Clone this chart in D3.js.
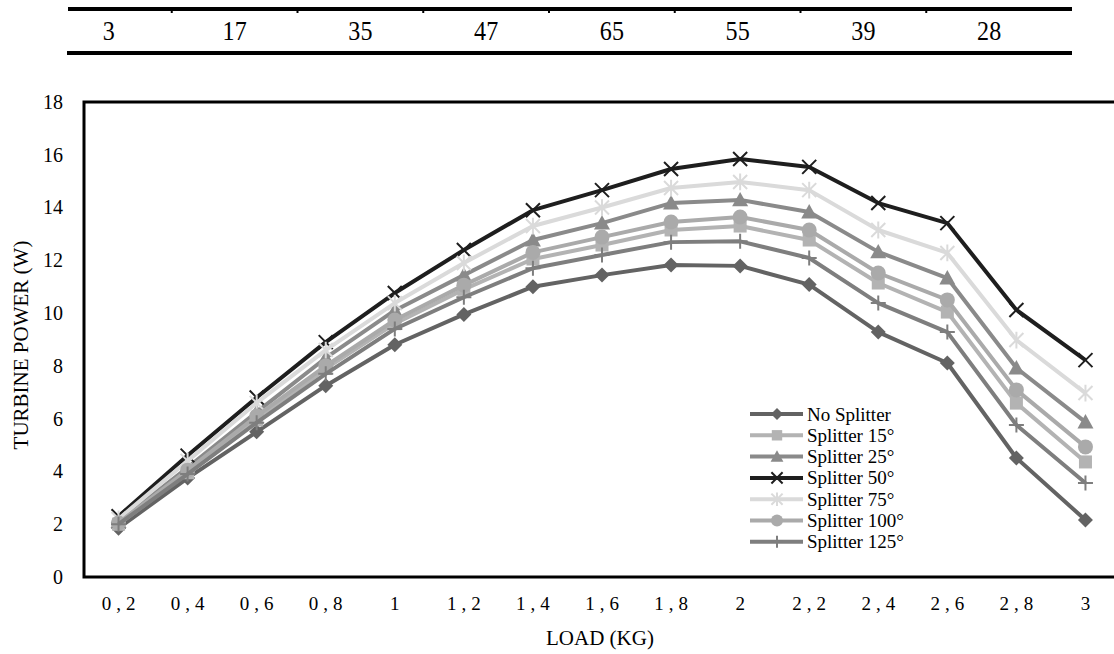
<!DOCTYPE html>
<html>
<head>
<meta charset="utf-8">
<script src="https://cdn.jsdelivr.net/npm/d3@7"></script>
<style>
  body { margin: 0; background: #fff; }
  svg { display: block; }
  svg text { font-family: "Liberation Serif", "Times New Roman", serif; }
</style>
</head>
<body>
<svg id="chart" width="1114" height="654"></svg>
<script>
// Load categories (kg) on the x axis
const loads = ["0,2", "0,4", "0,6", "0,8", "1", "1,2", "1,4", "1,6", "1,8", "2", "2,2", "2,4", "2,6", "2,8", "3"];
// Header table values above the chart
const tableValues = [3, 17, 35, 47, 65, 55, 39, 28];
// Y axis tick values (W)
const yTicks = [0, 2, 4, 6, 8, 10, 12, 14, 16, 18];

// Turbine power (W) per load for each splitter configuration
const noSplitter  = [1.85, 3.75, 5.5, 7.25, 8.8, 9.95, 11.0, 11.44, 11.82, 11.79, 11.08, 9.28, 8.11, 4.51, 2.16];
const splitter15  = [2.0, 3.95, 5.95, 7.9, 9.6, 10.9, 12.05, 12.58, 13.15, 13.3, 12.77, 11.14, 10.04, 6.59, 4.36];
const splitter25  = [2.1, 4.15, 6.25, 8.3, 10.1, 11.44, 12.77, 13.41, 14.17, 14.29, 13.83, 12.32, 11.33, 7.92, 5.87];
const splitter50  = [2.3, 4.6, 6.8, 8.9, 10.76, 12.39, 13.9, 14.66, 15.46, 15.84, 15.54, 14.17, 13.41, 10.12, 8.22];
const splitter75  = [2.2, 4.4, 6.6, 8.6, 10.38, 11.9, 13.3, 14.0, 14.74, 14.97, 14.66, 13.15, 12.28, 8.98, 6.97];
const splitter100 = [2.05, 4.05, 6.1, 8.0, 9.74, 11.06, 12.3, 12.88, 13.45, 13.64, 13.15, 11.52, 10.5, 7.09, 4.93];
const splitter125 = [2.0, 3.9, 5.85, 7.7, 9.4, 10.6, 11.7, 12.2, 12.69, 12.72, 12.09, 10.38, 9.28, 5.76, 3.56];

const seriesNames = ["No Splitter", "Splitter 15°", "Splitter 25°", "Splitter 50°", "Splitter 75°", "Splitter 100°", "Splitter 125°"];
const seriesValues = [noSplitter, splitter15, splitter25, splitter50, splitter75, splitter100, splitter125];
const seriesColors = ["#636363", "#b3b3b3", "#8a8a8a", "#1e1e1e", "#dadada", "#aaaaaa", "#7e7e7e"];
const seriesMarkers = ["diamond", "square", "triangle", "times", "asterisk", "circle", "plus"];

const svg = d3.select("#chart");

// Plot area
const plot = { left: 84, right: 1120, top: 102, bottom: 577 };

const x = d3.scaleBand().domain(loads).range([plot.left, plot.right]).padding(0);
const xc = d => x(d) + x.bandwidth() / 2;
const y = d3.scaleLinear().domain([0, 18]).range([plot.bottom, plot.top]);

// ---- Header table ----
const col = d3.scaleBand().domain(d3.range(tableValues.length)).range([46, 1052]);
const table = svg.append("g");
table.append("line").attr("x1", 68).attr("x2", 1072).attr("y1", 9).attr("y2", 9)
  .attr("stroke", "#000").attr("stroke-width", 4);
table.append("line").attr("x1", 67).attr("x2", 1072).attr("y1", 53).attr("y2", 53)
  .attr("stroke", "#000").attr("stroke-width", 4);
table.selectAll("line.sep").data(d3.range(1, tableValues.length)).join("line")
  .attr("class", "sep")
  .attr("x1", i => col(i)).attr("x2", i => col(i))
  .attr("y1", 11).attr("y2", 13)
  .attr("stroke", "#000").attr("stroke-width", 2);
table.selectAll("text").data(tableValues).join("text")
  .attr("transform", (d, i) => `translate(${col(i) + col.bandwidth() / 2},40) scale(0.86,1)`)
  .attr("text-anchor", "middle")
  .attr("font-size", 28)
  .text(d => d);

// ---- Axes ----
const yAxis = svg.append("g")
  .attr("transform", `translate(${plot.left},0)`)
  .call(d3.axisLeft(y).tickValues(yTicks).tickSize(0).tickPadding(21))
  .attr("font-size", 20);
yAxis.select(".domain").remove();
yAxis.selectAll("text").attr("fill", "#000");

const xAxis = svg.append("g")
  .attr("transform", `translate(0,${plot.bottom})`)
  .call(d3.axisBottom(x).tickSize(0).tickPadding(20))
  .attr("font-size", 19);
xAxis.select(".domain").remove();
xAxis.selectAll("text")
  .attr("fill", "#000")
  .attr("letter-spacing", 5).attr("dx", 2.5);

// Axis titles
svg.append("text")
  .attr("transform", `translate(28,345) rotate(-90)`)
  .attr("text-anchor", "middle")
  .attr("font-size", 21)
  .text("TURBINE POWER (W)");
svg.append("text")
  .attr("x", 600).attr("y", 645)
  .attr("text-anchor", "middle")
  .attr("font-size", 21)
  .text("LOAD (KG)");

// Plot frame
svg.append("rect")
  .attr("x", plot.left).attr("y", plot.top)
  .attr("width", plot.right - plot.left).attr("height", plot.bottom - plot.top)
  .attr("fill", "none").attr("stroke", "#000").attr("stroke-width", 3);

// ---- Marker shapes ----
function drawMarker(g, type, color, scale) {
  const s = scale || 1;
  if (type === "diamond") {
    const r = 7.5 * s;
    g.append("path").attr("d", `M0,${-r}L${r},0L0,${r}L${-r},0Z`).attr("fill", color);
  } else if (type === "square") {
    const h = 6.5 * s;
    g.append("rect").attr("x", -h).attr("y", -h).attr("width", 2 * h).attr("height", 2 * h).attr("fill", color);
  } else if (type === "triangle") {
    const h = 8 * s;
    g.append("path").attr("d", `M0,${-h}L${h},${h * 0.8}L${-h},${h * 0.8}Z`).attr("fill", color);
  } else if (type === "circle") {
    g.append("circle").attr("r", 7.5 * s).attr("fill", color);
  } else if (type === "times") {
    const h = 7 * s;
    g.append("path").attr("d", `M${-h},${-h}L${h},${h}M${-h},${h}L${h},${-h}`)
      .attr("stroke", color).attr("stroke-width", 2).attr("fill", "none");
  } else if (type === "asterisk") {
    const h = 7 * s;
    g.append("path").attr("d", `M${-h},${-h}L${h},${h}M${-h},${h}L${h},${-h}M0,${-h * 1.2}L0,${h * 1.2}`)
      .attr("stroke", color).attr("stroke-width", 2).attr("fill", "none");
  } else if (type === "plus") {
    const h = 7.5 * s;
    g.append("path").attr("d", `M0,${-h}L0,${h}M${-h},0L${h},0`)
      .attr("stroke", color).attr("stroke-width", 2).attr("fill", "none");
  }
}

// ---- Series lines and markers ----
const line = d3.line().x((d, i) => xc(loads[i])).y(d => y(d));

seriesValues.forEach((vals, si) => {
  const g = svg.append("g");
  g.append("path")
    .attr("d", line(vals))
    .attr("fill", "none")
    .attr("stroke", seriesColors[si])
    .attr("stroke-width", 4)
    .attr("stroke-linejoin", "round");
  vals.forEach((v, i) => {
    const m = g.append("g").attr("transform", `translate(${xc(loads[i])},${y(v)})`);
    drawMarker(m, seriesMarkers[si], seriesColors[si]);
  });
});

// ---- Legend ----
const legend = svg.append("g");
seriesNames.forEach((name, si) => {
  const ly = 414 + si * 21.3;
  legend.append("line")
    .attr("x1", 750).attr("x2", 803).attr("y1", ly).attr("y2", ly)
    .attr("stroke", seriesColors[si]).attr("stroke-width", 4);
  const m = legend.append("g").attr("transform", `translate(777,${ly})`);
  drawMarker(m, seriesMarkers[si], seriesColors[si], 0.8);
  legend.append("text")
    .attr("x", 807).attr("y", ly + 6.5)
    .attr("font-size", 19)
    .text(name);
});
</script>
</body>
</html>
